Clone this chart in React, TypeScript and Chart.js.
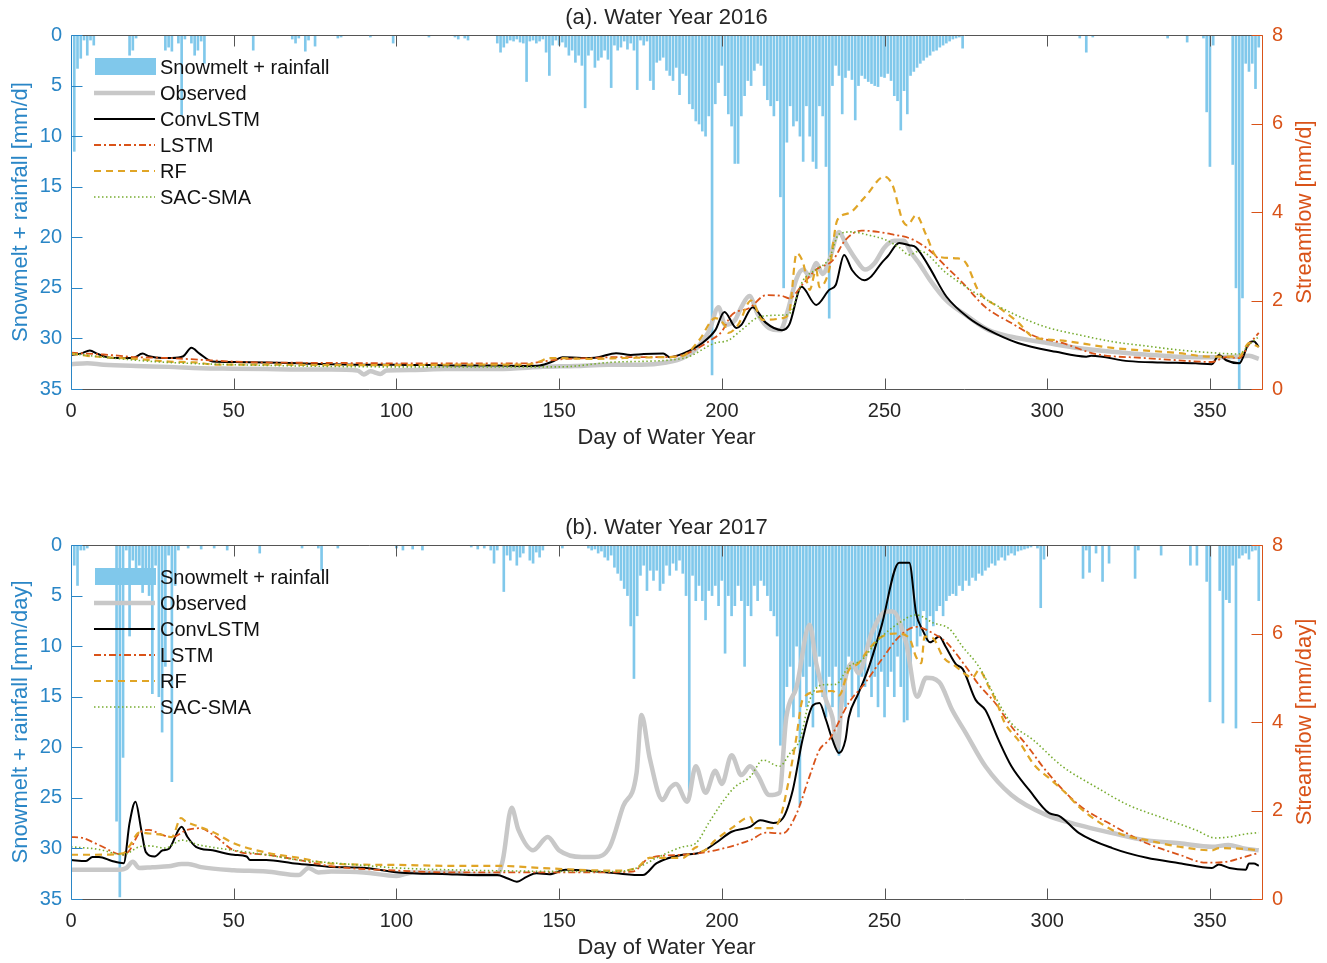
import { useEffect, useRef } from "react";
import { Chart, registerables } from "chart.js";
Chart.register(...registerables);

const FONT = '"Liberation Sans", Arial, Helvetica, sans-serif';
const BLUE = "#2a86c6";
const ORANGE = "#D95319";
const BAR = "#80c8eb";
const TEXT = "#262626";

// x ticks
const dayTicks = [0, 50, 100, 150, 200, 250, 300, 350];

// ---------- Panel (a): Water Year 2016 ----------
// rainfall + snowmelt [day, mm/d]
const rainA = [
  [1, 11.5], [2, 3.3], [3, 2.3], [4, 0.5], [5, 2], [6, 0.5], [7, 1],
  [18, 2], [19, 1.5], [20, 0.3], [29, 1.5], [30, 1.2], [31, 1.6], [33, 0.8], [34, 7.9], [35, 0.4],
  [37, 0.8], [38, 2], [39, 1.5], [40, 0.6], [41, 2.8], [56, 1.5], [68, 0.4], [69, 0.8], [70, 0.3],
  [72, 1.6], [73, 0.5], [75, 1.1], [82, 0.3], [83, 0.2], [92, 0.2], [99, 0.8], [110, 0.2],
  [118, 0.2], [119, 0.4], [121, 0.3], [122, 0.5],
  [131, 0.8], [132, 1.7], [133, 1.2], [134, 0.8], [135, 0.5], [136, 0.6], [137, 0.4], [138, 0.7],
  [139, 0.8], [140, 4.6], [141, 0.6], [142, 0.5], [143, 0.8], [144, 0.6], [145, 0.4], [146, 1.7],
  [147, 4], [148, 1], [149, 0.5], [150, 1], [151, 0.7], [152, 1.2], [153, 2], [154, 1.5], [155, 2.7],
  [156, 2], [157, 3], [158, 7.2], [159, 2], [160, 1.5], [161, 3.2], [162, 2.5], [163, 2.2], [164, 1.5],
  [165, 2.4], [166, 5.2], [167, 1], [168, 1.5], [169, 1.2], [170, 0.6], [171, 1.4], [172, 0.8],
  [173, 1.5], [174, 5.4], [175, 0.5], [176, 1], [177, 0.6], [178, 4.5], [179, 5.4], [180, 2.7],
  [181, 2.5], [182, 2.2], [183, 3.5], [184, 4], [185, 4.5], [186, 3.2], [187, 5.9], [188, 3.8],
  [189, 4], [190, 6.8], [191, 7.3], [192, 8.5], [193, 8.8], [194, 9.5], [195, 10], [196, 8],
  [197, 33.6], [198, 6.8], [199, 4.7], [200, 3], [201, 6], [202, 7.8], [203, 9], [204, 12.7],
  [205, 12.7], [206, 8], [207, 6], [208, 4.5], [209, 5], [210, 3.5], [211, 2.8], [212, 3], [213, 5],
  [214, 6.4], [215, 7], [216, 8], [217, 6.5], [218, 16], [219, 25], [220, 10.6], [221, 7], [222, 9],
  [223, 8.5], [224, 10], [225, 12.5], [226, 7], [227, 10], [228, 12.5], [229, 13.2], [230, 7],
  [231, 8], [232, 13], [233, 28], [234, 5], [235, 3], [236, 4], [237, 7.8], [238, 4.2], [239, 3.5],
  [240, 4.4], [241, 8.4], [242, 5], [243, 4], [244, 4.3], [245, 4.6], [246, 4.8], [247, 5],
  [248, 5.1], [249, 4.1], [250, 4.2], [251, 3.8], [252, 4.5], [253, 6], [254, 6.5], [255, 9.4],
  [256, 5.5], [257, 7.8], [258, 4], [259, 3.6], [260, 3.2], [261, 2.8], [262, 2.5], [263, 2.2],
  [264, 2], [265, 1.6], [266, 1.5], [267, 1.2], [268, 1], [269, 0.8], [270, 0.6], [271, 0.4],
  [272, 0.3], [273, 0.2], [274, 1.3],
  [310, 0.3], [312, 1.7], [314, 0.2], [337, 0.3], [343, 0.7], [348, 0.3], [349, 7.6], [350, 13],
  [351, 1], [357, 12.8], [358, 25], [359, 35], [360, 26], [361, 2.8], [362, 3.6], [363, 2.8],
  [364, 5.3], [365, 1.2],
];

// streamflow [day, mm/d]
const obsA = [
  [0, 0.56], [5, 0.58], [10, 0.55], [20, 0.52], [30, 0.5], [40, 0.47], [50, 0.46], [60, 0.45],
  [70, 0.44], [80, 0.44], [88, 0.42], [90, 0.33], [92, 0.4], [95, 0.34], [97, 0.42], [105, 0.43],
  [115, 0.45], [125, 0.45], [135, 0.46], [145, 0.5], [155, 0.52], [165, 0.55], [175, 0.55],
  [183, 0.6], [188, 0.7], [192, 0.9], [196, 1.3], [199, 1.85], [201, 1.45], [204, 1.55],
  [206, 1.85], [208.5, 2.1], [211, 1.7], [214.5, 1.38], [218, 1.33], [220, 1.7], [223, 2.5],
  [225, 2.7], [227, 2.55], [229, 2.85], [231, 2.6], [233, 2.9], [236, 3.55], [238, 3.3],
  [241, 2.95], [244, 2.7], [247, 2.85], [250, 3.2], [253, 3.35], [256, 3.35], [258, 3.1],
  [261, 2.8], [264, 2.46], [269, 2.0], [275, 1.67], [282, 1.33], [289, 1.18], [300, 1.04],
  [310, 0.92], [320, 0.84], [330, 0.78], [340, 0.73], [350, 0.72], [358, 0.73], [362, 0.75],
  [365, 0.68],
];
const convA = [
  [0, 0.77], [3, 0.8], [5.8, 0.87], [8, 0.8], [11, 0.72], [14, 0.7], [19, 0.7], [22, 0.8],
  [24, 0.74], [28, 0.7], [31, 0.7], [34.5, 0.74], [37, 0.93], [39.5, 0.8], [43.5, 0.62],
  [50, 0.61], [60, 0.6], [70, 0.58], [80, 0.56], [90, 0.55], [100, 0.55], [110, 0.54],
  [120, 0.53], [130, 0.53], [140, 0.52], [144, 0.53], [148, 0.62], [151, 0.72], [157, 0.7],
  [162, 0.72], [167.5, 0.81], [172, 0.77], [176, 0.79], [182, 0.8], [184, 0.72], [188, 0.8],
  [194, 1.04], [198, 1.33], [200.8, 1.74], [204.5, 1.38], [206, 1.45], [209.5, 1.85],
  [213.5, 1.5], [218.5, 1.33], [220.7, 1.45], [224.5, 2.31], [229, 1.9], [233, 2.24],
  [235, 2.35], [237.6, 3.03], [240, 2.69], [243.8, 2.46], [246, 2.55], [249, 2.84], [251, 3.0],
  [254.5, 3.3], [257.6, 3.25], [259.7, 3.2], [263.7, 2.76], [269, 2.09], [276, 1.6], [282, 1.33],
  [291, 1.04], [302.7, 0.84], [312, 0.73], [313.5, 0.75], [325, 0.63], [335, 0.6], [345.6, 0.58],
  [350.6, 0.56], [352.8, 0.77], [355, 0.65], [359, 0.58], [362, 1.04], [363.5, 1.08], [365, 0.95],
];
const lstmA = [
  [0, 0.82], [5, 0.8], [10, 0.78], [20, 0.72], [30, 0.7], [40, 0.66], [50, 0.62], [60, 0.6],
  [80, 0.59], [100, 0.58], [120, 0.58], [140, 0.58], [150, 0.67], [160, 0.7], [167.6, 0.72],
  [182, 0.72], [188, 0.77], [192, 0.9], [196.5, 1.1], [200, 1.3], [203, 1.67], [208.5, 1.83],
  [213.6, 2.12], [218.6, 2.1], [220.7, 2.05], [225, 2.38], [229, 2.7], [234, 2.9], [238, 3.37],
  [243, 3.58], [248, 3.55], [252, 3.5], [258.6, 3.38], [263.7, 3.14], [269, 2.76], [274, 2.4],
  [281, 1.85], [289, 1.49], [296.6, 1.18], [304.6, 1.04], [315, 0.79], [330, 0.7], [340, 0.65],
  [350.6, 0.61], [355, 0.72], [359, 0.7], [362, 1.0], [365, 1.27],
];
const rfA = [
  [0, 0.8], [5, 0.75], [10, 0.72], [20, 0.68], [30, 0.62], [38, 0.6], [45, 0.55], [60, 0.55],
  [80, 0.54], [100, 0.54], [120, 0.55], [140, 0.55], [144, 0.62], [147, 0.7], [160, 0.68],
  [170, 0.7], [182, 0.72], [188, 0.75], [193, 1.1], [198, 1.6], [200.8, 1.45], [202, 1.27],
  [205, 1.45], [209, 2.0], [212.6, 1.56], [218.6, 1.6], [220.7, 1.73], [223, 3.07], [225, 2.85],
  [227, 2.24], [229, 2.7], [230, 2.3], [233, 2.7], [235.5, 3.82], [239, 3.97], [244, 4.34],
  [250, 4.8], [252.5, 4.6], [255.5, 3.82], [257, 3.7], [259.7, 3.93], [262.8, 3.48], [266, 3.0],
  [272.6, 2.95], [275, 2.85], [279, 2.2], [285, 1.85], [291, 1.51], [295.6, 1.18], [303.6, 1.1],
  [320, 0.93], [340.5, 0.81], [350, 0.73], [359, 0.73], [362, 1.04], [365, 0.95],
];
const sacA = [
  [0, 0.8], [10, 0.72], [20, 0.65], [30, 0.6], [40, 0.57], [50, 0.55], [70, 0.52], [100, 0.5],
  [130, 0.5], [150, 0.5], [167.6, 0.61], [188, 0.69], [198, 1.04], [202, 1.1], [206, 1.33],
  [211.6, 1.63], [218.6, 1.67], [220.7, 1.7], [225, 2.46], [229, 2.7], [233, 2.95], [236, 3.5],
  [240, 3.55], [245, 3.48], [250, 3.38], [254.5, 3.2], [257.6, 3.03], [260.7, 3.12], [269, 2.62],
  [279, 2.12], [289, 1.72], [299.6, 1.4], [310, 1.22], [320, 1.07], [330.6, 0.97], [340.6, 0.88],
  [350.6, 0.82], [359, 0.79], [362, 1.0], [365, 1.18],
];

// ---------- Panel (b): Water Year 2017 ----------
const rainB = [
  [1, 2], [2, 4], [3, 0.5], [4, 0.5], [5, 0.3],
  [14, 27.3], [15, 34.8], [16, 21], [17, 0.5], [18, 9], [19, 1.5], [20, 3], [21, 2], [22, 4.7],
  [23, 3], [24, 5], [25, 14.7], [26, 2], [27, 15], [28, 18.5], [29, 12], [30, 1], [31, 23.4],
  [32, 4], [33, 0.5], [36, 0.3], [40, 0.4], [44, 0.3], [48, 0.5], [58, 0.8], [71, 0.3], [76, 0.3],
  [77, 2.5], [82, 0.3], [100, 0.3], [102, 0.5], [105, 0.4], [108, 0.5],
  [123, 0.2], [125, 0.4], [127, 0.3], [129, 0.5], [130, 1.8], [131, 0.5], [133, 4.6], [134, 1],
  [135, 1.5], [136, 0.6], [137, 2], [138, 1.2], [139, 0.8], [141, 1.5], [142, 1.8], [143, 0.7],
  [144, 1.2], [145, 0.5], [151, 0.3],
  [159, 0.3], [160, 0.5], [161, 0.4], [162, 0.8], [163, 0.6], [164, 1.2], [165, 1.5], [166, 1.0],
  [167, 2.2], [168, 2.8], [169, 3.5], [170, 4.3], [171, 5], [172, 8], [173, 13.2], [174, 7],
  [175, 3], [176, 2], [177, 4.5], [178, 2.5], [179, 3.5], [180, 2.5], [181, 4.5], [182, 3.8],
  [183, 2], [184, 3], [185, 1.8], [186, 2.5], [187, 1.5], [188, 2.8], [189, 5], [190, 25],
  [191, 3], [192, 5.5], [193, 4], [194, 5.5], [195, 7.4], [196, 4.5], [197, 5], [198, 4], [199, 6],
  [200, 3.5], [201, 10.7], [202, 5], [203, 7], [204, 6], [205, 4], [206, 5.5], [207, 12], [208, 6],
  [209, 7], [210, 4], [211, 5.5], [212, 3.5], [213, 4], [214, 5], [215, 6.5], [216, 7], [217, 9],
  [218, 19.8], [219, 19.5], [220, 14], [221, 12], [222, 17], [223, 10], [224, 25.7], [225, 13],
  [226, 16], [227, 12], [228, 18], [229, 14], [230, 11], [231, 15], [232, 17], [233, 13],
  [234, 16], [235, 12], [236, 20.8], [237, 14], [238, 16], [239, 11], [240, 15], [241, 12],
  [242, 17], [243, 13], [244, 14], [245, 10], [246, 15], [247, 13], [248, 16], [249, 12.5],
  [250, 17], [251, 14], [252, 12.5], [253, 15], [254, 11], [255, 14], [256, 17.5], [257, 17.3],
  [258, 12], [259, 8], [260, 10], [261, 9], [262, 6.5], [263, 9.5], [264, 7], [265, 8], [266, 6.5],
  [267, 6], [268, 7], [269, 5.5], [270, 5], [271, 4.8], [272, 5], [273, 4], [274, 4.5], [275, 3.5],
  [276, 4], [277, 3.2], [278, 3.5], [279, 2.8], [280, 3], [281, 2.5], [282, 2.2], [283, 1.8],
  [284, 2], [285, 1.5], [286, 1.2], [287, 1.5], [288, 1], [289, 0.8], [290, 1], [291, 0.6],
  [292, 0.5], [293, 0.4], [294, 0.3], [295, 0.2], [297, 0.3], [298, 6.2], [299, 1.4],
  [311, 3.3], [312, 0.5], [313, 2.7], [315, 0.8], [317, 3.6], [319, 1.8], [327, 3.3], [328, 0.5],
  [335, 1], [344, 2], [346, 2], [349, 3.6], [350, 15.5], [353, 4.5], [354, 17.6], [355, 5.4],
  [356, 5.7], [357, 2], [358, 18.1], [359, 1.3], [360, 1], [361, 0.8], [362, 1.4], [363, 0.6],
  [364, 0.5], [365, 5.5],
];
const obsB = [
  [0, 0.66], [10, 0.66], [15, 0.66], [17, 0.7], [19, 0.84], [21, 0.7], [25, 0.72], [30, 0.74],
  [34, 0.79], [36, 0.79], [40, 0.72], [50, 0.65], [60, 0.62], [70, 0.54], [73, 0.7], [76, 0.6],
  [80, 0.62], [90, 0.6], [100, 0.52], [105, 0.6], [116, 0.6], [125, 0.55], [131, 0.55],
  [132.7, 0.88], [135.4, 2.06], [137.5, 1.56], [142, 1.1], [146.5, 1.4], [150, 1.1], [157, 0.95],
  [161, 0.95], [165.6, 1.18], [169.7, 2.1], [173.8, 2.85], [175.3, 4.16], [177.8, 3.2],
  [181.8, 2.24], [184, 2.5], [185.9, 2.6], [189.4, 2.2], [192, 3.0], [195, 2.4], [198, 2.9],
  [200, 2.6], [203, 3.25], [206, 2.8], [208.7, 3.0], [211, 2.8], [214.6, 2.35], [217.7, 2.4],
  [219.8, 4.1], [223, 4.8], [227, 6.2], [229, 5.33], [232, 4.5], [234, 4.1], [235.5, 3.4],
  [237, 4.57], [240, 5.33], [242, 5.1], [246, 6.0], [250.5, 6.5], [252.5, 6.5], [256.6, 5.8],
  [260, 4.57], [262.8, 5.0], [266.8, 4.9], [270.8, 4.27], [275, 3.75], [281, 3.0], [289, 2.35],
  [299.6, 1.9], [309.8, 1.67], [320, 1.49], [330, 1.33], [340.6, 1.26], [350.6, 1.18],
  [355.7, 1.22], [360, 1.15], [365, 1.1],
];
const convB = [
  [0, 0.88], [4.6, 0.86], [6.6, 0.95], [8.6, 0.95], [12.6, 0.86], [16.2, 0.81], [18, 1.72],
  [19.8, 2.2], [21.6, 1.56], [23, 1.06], [25.7, 0.96], [28.2, 1.1], [30, 1.13], [34, 1.63],
  [35.8, 1.4], [38.4, 1.18], [43.5, 1.1], [50, 1.0], [54, 0.96], [55, 0.88], [60, 0.88],
  [68, 0.81], [75, 0.76], [79, 0.73], [90.5, 0.7], [100.7, 0.6], [116, 0.56], [125, 0.54],
  [131, 0.54], [134, 0.47], [137, 0.39], [140, 0.5], [143, 0.58], [147, 0.56], [152, 0.66],
  [159, 0.64], [167.6, 0.58], [175.7, 0.54], [180, 0.81], [188, 1.0], [193, 1.04], [198, 1.26],
  [203, 1.52], [208.7, 1.63], [211.8, 1.78], [215.8, 1.72], [218.7, 1.82], [221.8, 2.46],
  [224.8, 3.6], [228, 4.38], [230, 4.43], [232, 4.05], [234, 3.6], [236, 3.3], [238, 3.6],
  [239, 4.1], [242, 4.65], [245, 5.2], [249, 6.15], [254.5, 7.6], [257.6, 7.6], [259.7, 6.46],
  [261.7, 6.08], [264, 5.8], [266.8, 5.93], [268.8, 5.7], [272, 5.3], [274, 5.2], [278, 4.5],
  [281, 4.27], [285, 3.6], [289, 3.0], [294.5, 2.46], [300.6, 1.94], [303.6, 1.88], [309.8, 1.49],
  [320, 1.15], [330.6, 0.93], [340.6, 0.81], [350.6, 0.7], [352.7, 0.78], [356, 0.7], [361, 0.66],
  [362, 0.8], [363.5, 0.8], [365, 0.75],
];
const lstmB = [
  [0, 1.4], [3.5, 1.38], [8.6, 1.22], [16, 1.0], [18, 1.1], [21, 1.49], [24, 1.56], [28, 1.45],
  [31, 1.4], [35.6, 1.56], [39.6, 1.6], [44.6, 1.4], [50, 1.1], [60, 1.0], [70, 0.88], [80, 0.74],
  [100.7, 0.64], [116, 0.6], [140, 0.6], [160, 0.6], [172.6, 0.62], [177.8, 0.93], [188, 1.0],
  [198, 1.1], [208.7, 1.33], [213.6, 1.5], [218.7, 1.48], [222.8, 1.9], [226.9, 2.76], [230, 3.37],
  [233, 3.6], [239, 4.43], [244, 4.88], [249, 5.4], [254.5, 5.93], [259.7, 6.15], [265, 6.0],
  [269, 5.8], [275, 5.25], [279, 4.84], [284, 4.43], [289, 3.9], [294.5, 3.4], [299.6, 2.9],
  [309.8, 2.12], [320, 1.67], [330.6, 1.26], [340.6, 1.0], [348.8, 0.82], [355, 0.84], [361, 0.96],
  [365, 1.04],
];
const rfB = [
  [0, 1.0], [6.6, 1.0], [16, 1.03], [18, 1.2], [21, 1.5], [24, 1.48], [28, 1.45], [31, 1.4],
  [33.8, 1.83], [35.3, 1.75], [39.5, 1.63], [44, 1.5], [50, 1.26], [60, 1.05], [70, 0.93],
  [80, 0.8], [100, 0.77], [116, 0.75], [131, 0.75], [147, 0.69], [167.6, 0.64], [173.8, 0.7],
  [177.8, 0.93], [188, 0.93], [192.5, 1.18], [194, 1.08], [198, 1.33], [203, 1.6], [208.7, 1.85],
  [210.3, 1.6], [214.6, 1.6], [217.7, 1.78], [219.8, 2.4], [222.8, 3.6], [224.8, 4.5], [229, 4.68],
  [234, 4.7], [236, 4.6], [239, 5.17], [242, 5.33], [245, 5.63], [249, 5.92], [253.6, 6.0],
  [257.6, 5.9], [259.7, 5.47], [261.3, 5.33], [262.3, 5.93], [264.8, 5.9], [268, 5.47],
  [272, 5.25], [275, 5.07], [277, 5.0], [279, 5.17], [282, 4.8], [284.5, 4.43], [287, 3.97],
  [291, 3.6], [296, 3.03], [300.6, 2.73], [305.6, 2.4], [309.8, 2.08], [315, 1.78], [320, 1.56],
  [324, 1.43], [330.6, 1.33], [340.6, 1.18], [350.6, 1.1], [352.7, 1.15], [361, 1.13], [365, 1.1],
];
const sacB = [
  [0, 1.18], [8.6, 1.12], [16, 1.0], [21, 1.18], [24, 1.2], [29, 1.15], [34, 1.33], [39.5, 1.22],
  [50, 1.1], [60, 1.0], [70, 0.88], [80, 0.82], [100.7, 0.7], [116, 0.66], [140, 0.63], [160, 0.62],
  [167.6, 0.62], [173.8, 0.7], [180, 0.93], [188, 1.18], [192, 1.26], [196, 1.72], [200, 2.17],
  [204, 2.53], [208.7, 2.76], [212.7, 3.14], [217.7, 3.0], [221, 3.3], [224, 3.6], [227, 4.5],
  [231, 4.84], [235, 4.85], [239, 5.25], [243, 5.4], [248, 5.85], [254.5, 6.24], [259.7, 6.42],
  [265, 6.24], [270, 6.1], [274, 5.7], [279, 5.25], [284, 4.57], [289, 3.97], [295.6, 3.6],
  [304.6, 3.0], [315, 2.53], [325, 2.12], [335.6, 1.83], [345.6, 1.56], [351.7, 1.38],
  [355.7, 1.4], [361, 1.47], [365, 1.5],
];

const seriesStyle = [
  { label: "Observed", color: "#c8c8c8", width: 4.5, dash: [] as number[] },
  { label: "ConvLSTM", color: "#000000", width: 2, dash: [] as number[] },
  { label: "LSTM", color: ORANGE, width: 1.8, dash: [7, 3, 2, 3] },
  { label: "RF", color: "#e0a526", width: 2.2, dash: [7, 5] },
  { label: "SAC-SMA", color: "#77ac30", width: 1.6, dash: [1.5, 2.5] },
];

type Pairs = number[][];

function toPoints(p: Pairs) {
  return p.map(([x, y]) => ({ x, y }));
}

function rainPoints(p: Pairs) {
  const m = new Map<number, number>();
  p.forEach(([d, v]) => m.set(d, v));
  const out: { x: number; y: number | null }[] = [];
  for (let d = 0; d <= 365; d++) out.push({ x: d, y: m.has(d) ? (m.get(d) as number) : null });
  return out;
}

function makeDecor(title: string, leftTitle: string, rightTitle: string) {
  return {
    id: "decor",
    afterDraw(chart: any) {
      const { ctx, chartArea: a, scales } = chart;
      const sx = scales.x, yR = scales.yR, yS = scales.yS;
      const L = Math.round(a.left) + 0.5, R = Math.round(a.right) + 0.5;
      const T = Math.round(a.top) + 0.5, B = Math.round(a.bottom) + 0.5;
      ctx.save();
      const seg = (x1: number, y1: number, x2: number, y2: number) => {
        ctx.beginPath(); ctx.moveTo(x1, y1); ctx.lineTo(x2, y2); ctx.stroke();
      };
      ctx.lineWidth = 1;
      ctx.setLineDash([]);
      ctx.strokeStyle = "#555555";
      seg(L, T, R, T);
      seg(L, B, R, B);
      dayTicks.forEach((d) => {
        if (d === 0) return;
        const px = Math.round(sx.getPixelForValue(d)) + 0.5;
        seg(px, B, px, B - 11);
        seg(px, T, px, T + 11);
      });
      ctx.strokeStyle = BLUE;
      seg(L, T, L, B);
      for (let v = 0; v <= 35; v += 5) {
        const py = Math.round(yR.getPixelForValue(v)) + 0.5;
        seg(L, py, L + 11, py);
      }
      ctx.strokeStyle = ORANGE;
      seg(R, T, R, B);
      for (let v = 0; v <= 8; v += 2) {
        const py = Math.round(yS.getPixelForValue(v)) + 0.5;
        seg(R, py, R - 11, py);
      }
      // titles
      ctx.fillStyle = TEXT;
      ctx.textAlign = "center";
      ctx.textBaseline = "middle";
      ctx.font = `22px ${FONT}`;
      const cx = (a.left + a.right) / 2;
      ctx.fillText(title, cx, 18);
      ctx.fillText("Day of Water Year", cx, a.bottom + 49);
      const cy = (a.top + a.bottom) / 2;
      ctx.save();
      ctx.translate(21, cy);
      ctx.rotate(-Math.PI / 2);
      ctx.fillStyle = BLUE;
      ctx.fillText(leftTitle, 0, 0);
      ctx.restore();
      ctx.save();
      ctx.translate(1305, cy);
      ctx.rotate(-Math.PI / 2);
      ctx.fillStyle = ORANGE;
      ctx.fillText(rightTitle, 0, 0);
      ctx.restore();
      // legend
      const lx0 = a.left + 23, lx1 = a.left + 84, tx = a.left + 89;
      const rowY = (i: number) => a.top + 32 + i * 26;
      ctx.fillStyle = BAR;
      ctx.fillRect(lx0 + 1, rowY(0) - 9, lx1 - lx0, 17);
      ctx.font = `20px ${FONT}`;
      ctx.textAlign = "left";
      ctx.fillStyle = "#111111";
      ctx.fillText("Snowmelt + rainfall", tx, rowY(0) + 1);
      seriesStyle.forEach((s, i) => {
        const y = rowY(i + 1);
        ctx.strokeStyle = s.color;
        ctx.lineWidth = s.width;
        ctx.setLineDash(s.dash);
        seg(lx0, y, lx1, y);
        ctx.setLineDash([]);
        ctx.fillStyle = "#111111";
        ctx.fillText(s.label, tx, y + 1);
      });
      ctx.restore();
    },
  };
}

function Panel(props: {
  top: number; height: number; title: string; leftTitle: string; rightTitle: string;
  rain: Pairs; lines: Pairs[];
}) {
  const ref = useRef<HTMLCanvasElement | null>(null);
  useEffect(() => {
    if (!ref.current) return;
    const datasets: any[] = [
      {
        type: "bar",
        label: "Snowmelt + rainfall",
        data: rainPoints(props.rain),
        yAxisID: "yR",
        backgroundColor: BAR,
        borderWidth: 0,
        barThickness: 2,
        order: 10,
      },
    ];
    props.lines.forEach((ln, i) => {
      const s = seriesStyle[i];
      datasets.push({
        type: "line",
        label: s.label,
        data: toPoints(ln),
        yAxisID: "yS",
        borderColor: s.color,
        borderWidth: s.width,
        borderDash: s.dash,
        pointRadius: 0,
        fill: false,
        cubicInterpolationMode: "monotone",
        borderJoinStyle: "round",
        order: 6 - i,
      });
    });
    const chart = new Chart(ref.current, {
      type: "bar",
      data: { datasets },
      options: {
        animation: false,
        responsive: false,
        maintainAspectRatio: false,
        layout: { padding: { top: 35, left: 0, right: 0, bottom: 0 } },
        plugins: { legend: { display: false }, tooltip: { enabled: false }, title: { display: false } },
        scales: {
          x: {
            type: "linear",
            offset: false,
            min: 0,
            max: 366,
            grid: { display: false, drawTicks: false, offset: false },
            border: { display: false },
            ticks: { font: { size: 20, family: FONT }, color: TEXT, padding: 10, maxRotation: 0, autoSkip: false },
            afterBuildTicks: (s: any) => { s.ticks = dayTicks.map((v) => ({ value: v })); },
            afterFit: (s: any) => { s.height = props.height - 389; },
          },
          yR: {
            type: "linear",
            position: "left",
            reverse: true,
            min: 0,
            max: 35,
            grid: { display: false, drawTicks: false },
            border: { display: false },
            ticks: { stepSize: 5, font: { size: 20, family: FONT }, color: BLUE, padding: 9 },
            afterFit: (s: any) => { s.width = 71; },
          },
          yS: {
            type: "linear",
            position: "right",
            min: 0,
            max: 8,
            grid: { display: false, drawTicks: false },
            border: { display: false },
            ticks: { stepSize: 2, font: { size: 20, family: FONT }, color: ORANGE, padding: 10 },
            afterFit: (s: any) => { s.width = 65; },
          },
        },
      } as any,
      plugins: [makeDecor(props.title, props.leftTitle, props.rightTitle)],
    });
    return () => chart.destroy();
  }, []);
  return (
    <canvas
      ref={ref}
      width={1327}
      height={props.height}
      style={{ position: "absolute", left: 0, top: props.top, width: 1327, height: props.height, display: "block" }}
    />
  );
}

export default function App() {
  return (
    <div style={{ position: "absolute", left: 0, top: 0, width: 1327, height: 963, overflow: "hidden", background: "#fff" }}>
      <Panel top={0} height={480} title="(a). Water Year 2016" leftTitle="Snowmelt + rainfall [mm/d]"
        rightTitle="Streamflow [mm/d]" rain={rainA} lines={[obsA, convA, lstmA, rfA, sacA]} />
      <Panel top={510} height={453} title="(b). Water Year 2017" leftTitle="Snowmelt + rainfall [mm/day]"
        rightTitle="Streamflow [mm/day]" rain={rainB} lines={[obsB, convB, lstmB, rfB, sacB]} />
    </div>
  );
}
